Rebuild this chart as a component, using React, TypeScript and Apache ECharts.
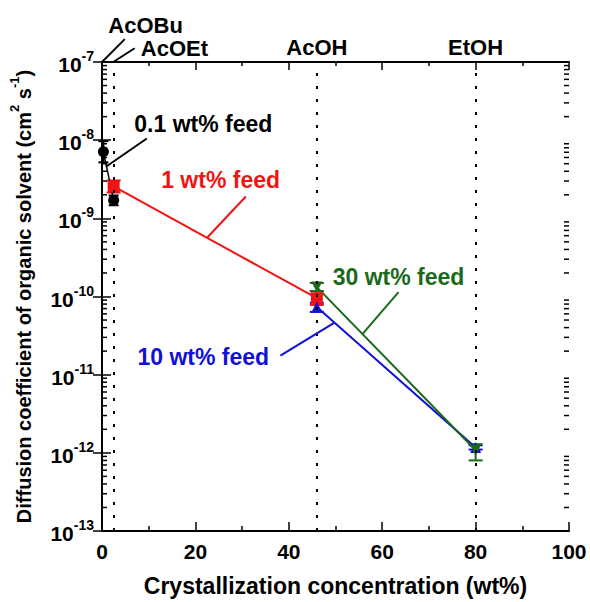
import React, { useEffect, useRef } from 'react';
import * as echarts from 'echarts';

const FONT = 'Liberation Sans, Arial, Helvetica, sans-serif';

// Solvent positions (dotted lines)
const solventX = [2.5, 46, 80];

// Series data: x, value, error low, error high
const feed01X = [0.3, 2.5];
const feed01Y = [7.1e-9, 1.7e-9];
const feed01Lo = [5.2e-9, 1.47e-9];
const feed01Hi = [9.7e-9, 1.96e-9];

const feed1X = [2.5, 46];
const feed1Y = [2.56e-9, 9.5e-11];
const feed1Lo = [2.14e-9, 7.8e-11];
const feed1Hi = [3.05e-9, 1.17e-10];

const feed10X = [46, 80];
const feed10Y = [7.35e-11, 1.17e-12];
const feed10Lo = [6.35e-11, 1.1e-12];
const feed10Hi = [8.3e-11, 1.25e-12];

const feed30X = [46, 80];
const feed30Y = [1.32e-10, 1.08e-12];
const feed30Lo = [1.17e-10, 8.0e-13];
const feed30Hi = [1.49e-10, 1.29e-12];

// Log minor tick helpers
const decades = [-13, -12, -11, -10, -9, -8];
const minorMultipliers = [2, 3, 4, 5, 6, 7, 8, 9];

// Annotations (data coordinates)
const annotTexts = ['0.1 wt% feed', '1 wt% feed', '10 wt% feed', '30 wt% feed', 'AcOBu', 'AcOEt', 'AcOH', 'EtOH'];
const annotColors = ['#000000', '#f01414', '#1010d8', '#1a6a1a', '#000000', '#000000', '#000000', '#000000'];
const annotSizes = [23, 23, 23, 23, 22, 22, 22, 22];
const annotX = [21.7, 25.4, 21.7, 63.5, 9.34, 15.5, 46, 80];
const annotY = [1.6e-8, 3.05e-9, 1.7e-11, 1.8e-10, 2.96e-7, 1.5e-7, 1.55e-7, 1.55e-7];
const leaderX1 = [9.6, 30.8, 38.2, 63.5, 4.88, 7.0, null, null];
const leaderY1 = [1.05e-8, 1.9e-9, 1.75e-11, 1.14e-10, 1.96e-7, 1.5e-7, null, null];
const leaderX2 = [0.85, 22.5, 49.7, 55.8, 0, 2.4, null, null];
const leaderY2 = [4.57e-9, 5.65e-10, 4.6e-11, 3.33e-11, 1e-7, 1e-7, null, null];

const RED = '#f01414';
const BLUE = '#1010d8';
const GREEN = '#1a6a1a';

function errSeries(xs: number[], ys: number[], lo: number[], hi: number[], color: string, cap: number) {
  return {
    type: 'custom',
    xAxisIndex: 0,
    yAxisIndex: 0,
    z: 3,
    silent: true,
    data: xs.map((x, i) => [x, ys[i], lo[i], hi[i]]),
    encode: { x: 0, y: 1 },
    renderItem: (params: any, api: any) => {
      const x = api.value(0);
      const p1 = api.coord([x, api.value(2)]);
      const p2 = api.coord([x, api.value(3)]);
      const st = { stroke: color, lineWidth: 2 };
      return {
        type: 'group',
        children: [
          { type: 'line', shape: { x1: p1[0], y1: p1[1], x2: p2[0], y2: p2[1] }, style: st },
          { type: 'line', shape: { x1: p1[0] - cap / 2, y1: p1[1], x2: p1[0] + cap / 2, y2: p1[1] }, style: st },
          { type: 'line', shape: { x1: p2[0] - cap / 2, y1: p2[1], x2: p2[0] + cap / 2, y2: p2[1] }, style: st },
        ],
      };
    },
  };
}

function lineSeries(xs: number[], ys: number[], color: string, symbol: string, size: number, width: number) {
  return {
    type: 'line',
    xAxisIndex: 0,
    yAxisIndex: 0,
    z: 4,
    data: xs.map((x, i) => [x, ys[i]]),
    symbol,
    symbolSize: size,
    showSymbol: true,
    itemStyle: { color, borderWidth: 0 },
    lineStyle: { color, width },
    silent: true,
  };
}

export default function App() {
  const ref = useRef<HTMLDivElement>(null);
  useEffect(() => {
    if (!ref.current) return;
    const chart = echarts.init(ref.current, undefined, { renderer: 'svg' });

    const minorTickValues: number[] = [];
    decades.forEach((d) => minorMultipliers.forEach((m) => minorTickValues.push(m * Math.pow(10, d))));

    const tickStyle = { color: '#000', width: 1.5 };

    const option: any = {
      animation: false,
      backgroundColor: '#ffffff',
      textStyle: { fontFamily: FONT },
      grid: { left: 99, right: 21, top: 62, bottom: 69, containLabel: false },
      xAxis: [
        {
          type: 'value',
          min: 0,
          max: 100,
          interval: 20,
          position: 'bottom',
          axisLine: { show: true, lineStyle: { color: '#000', width: 2 } },
          axisTick: { show: true, inside: true, length: 9, lineStyle: tickStyle },
          minorTick: { show: true, splitNumber: 2, length: 5, lineStyle: tickStyle },
          splitLine: { show: false },
          axisLabel: { color: '#000', fontSize: 21, fontWeight: 'bold', fontFamily: FONT, margin: 10 },
          name: 'Crystallization concentration (wt%)',
          nameLocation: 'middle',
          nameGap: 43,
          nameTextStyle: { color: '#000', fontSize: 23, fontWeight: 'bold', fontFamily: FONT },
        },
        {
          type: 'value',
          min: 0,
          max: 100,
          interval: 20,
          position: 'top',
          axisLine: { show: true, lineStyle: { color: '#000', width: 2 } },
          axisTick: { show: true, inside: true, length: 8, lineStyle: tickStyle },
          minorTick: { show: true, splitNumber: 2, length: 4, lineStyle: tickStyle },
          splitLine: { show: false },
          axisLabel: { show: false },
        },
      ],
      yAxis: [
        {
          type: 'log',
          logBase: 10,
          min: 1e-13,
          max: 1e-7,
          position: 'left',
          axisLine: { show: true, lineStyle: { color: '#000', width: 2 } },
          axisTick: { show: true, inside: true, length: 9, lineStyle: tickStyle },
          splitLine: { show: false },
          axisLabel: {
            margin: 8,
            formatter: (v: number) => `{b|10}{s|${Math.round(Math.log10(v))}}`,
            rich: {
              b: { fontSize: 21, fontWeight: 'bold', color: '#000', fontFamily: FONT, lineHeight: 26, verticalAlign: 'bottom' },
              s: { fontSize: 14, fontWeight: 'bold', color: '#000', fontFamily: FONT, lineHeight: 26, verticalAlign: 'top' },
            },
          },
          name: '{t|Diffusion coefficient of organic solvent (cm}{s|2}{t| s}{s|-1}{t|)}',
          nameLocation: 'middle',
          nameRotate: 90,
          nameGap: 68,
          nameTextStyle: {
            rich: {
              t: { fontSize: 20, fontWeight: 'bold', color: '#000', fontFamily: FONT, lineHeight: 26, verticalAlign: 'bottom' },
              s: { fontSize: 13, fontWeight: 'bold', color: '#000', fontFamily: FONT, lineHeight: 26, verticalAlign: 'top' },
            },
          },
        },
        {
          type: 'log',
          logBase: 10,
          min: 1e-13,
          max: 1e-7,
          position: 'right',
          axisLine: { show: true, lineStyle: { color: '#000', width: 2 } },
          axisTick: { show: true, inside: true, length: 9, lineStyle: tickStyle },
          splitLine: { show: false },
          axisLabel: { show: false },
        },
      ],
      series: [
        // log minor ticks on left and right
        {
          type: 'custom',
          xAxisIndex: 0,
          yAxisIndex: 0,
          silent: true,
          z: 2,
          data: minorTickValues.map((v) => [0, v]),
          encode: { x: 0, y: 1 },
          renderItem: (params: any, api: any) => {
            const v = api.value(1);
            const l = api.coord([0, v]);
            const r = api.coord([100, v]);
            return {
              type: 'group',
              children: [
                { type: 'line', shape: { x1: l[0], y1: l[1], x2: l[0] + 5, y2: l[1] }, style: { stroke: '#000', lineWidth: 1.5 } },
                { type: 'line', shape: { x1: r[0] - 5, y1: r[1], x2: r[0], y2: r[1] }, style: { stroke: '#000', lineWidth: 1.5 } },
              ],
            };
          },
        },
        // dotted solvent lines
        {
          type: 'line',
          xAxisIndex: 0,
          yAxisIndex: 0,
          data: [],
          silent: true,
          markLine: {
            symbol: 'none',
            silent: true,
            label: { show: false },
            lineStyle: { color: '#000', width: 2, type: [3, 10] },
            data: solventX.map((x) => ({ xAxis: x })),
          },
        },
        errSeries(feed01X, feed01Y, feed01Lo, feed01Hi, '#000', 10),
        errSeries(feed1X, feed1Y, feed1Lo, feed1Hi, RED, 14),
        errSeries(feed10X, feed10Y, feed10Lo, feed10Hi, BLUE, 14),
        errSeries(feed30X, feed30Y, feed30Lo, feed30Hi, GREEN, 14),
        lineSeries(feed01X, feed01Y, '#000', 'circle', 11, 1.5),
        lineSeries(feed1X, feed1Y, RED, 'rect', 12, 2),
        lineSeries(feed10X, feed10Y, BLUE, 'triangle', 11, 2),
        { ...lineSeries(feed30X, feed30Y, GREEN, 'triangle', 11, 2), symbolRotate: 180 },
        // annotations
        {
          type: 'custom',
          xAxisIndex: 0,
          yAxisIndex: 0,
          silent: true,
          clip: false,
          z: 6,
          data: annotTexts.map((t, i) => [annotX[i], annotY[i]]),
          encode: { x: 0, y: 1 },
          renderItem: (params: any, api: any) => {
            const i = params.dataIndex;
            const p = api.coord([annotX[i], annotY[i]]);
            const children: any[] = [
              {
                type: 'text',
                x: p[0],
                y: p[1],
                style: {
                  text: annotTexts[i],
                  fill: annotColors[i],
                  font: `bold ${annotSizes[i]}px ${FONT}`,
                  align: 'center',
                  verticalAlign: 'middle',
                },
              },
            ];
            if (leaderX1[i] !== null) {
              const a = api.coord([leaderX1[i], leaderY1[i]]);
              const b = api.coord([leaderX2[i], leaderY2[i]]);
              children.push({
                type: 'line',
                shape: { x1: a[0], y1: a[1], x2: b[0], y2: b[1] },
                style: { stroke: annotColors[i], lineWidth: 2 },
              });
            }
            return { type: 'group', children };
          },
        },
      ],
    };
    chart.setOption(option);
    return () => chart.dispose();
  }, []);
  return <div ref={ref} style={{ width: 590, height: 602, position: 'absolute', left: 0, top: 0 }} />;
}
